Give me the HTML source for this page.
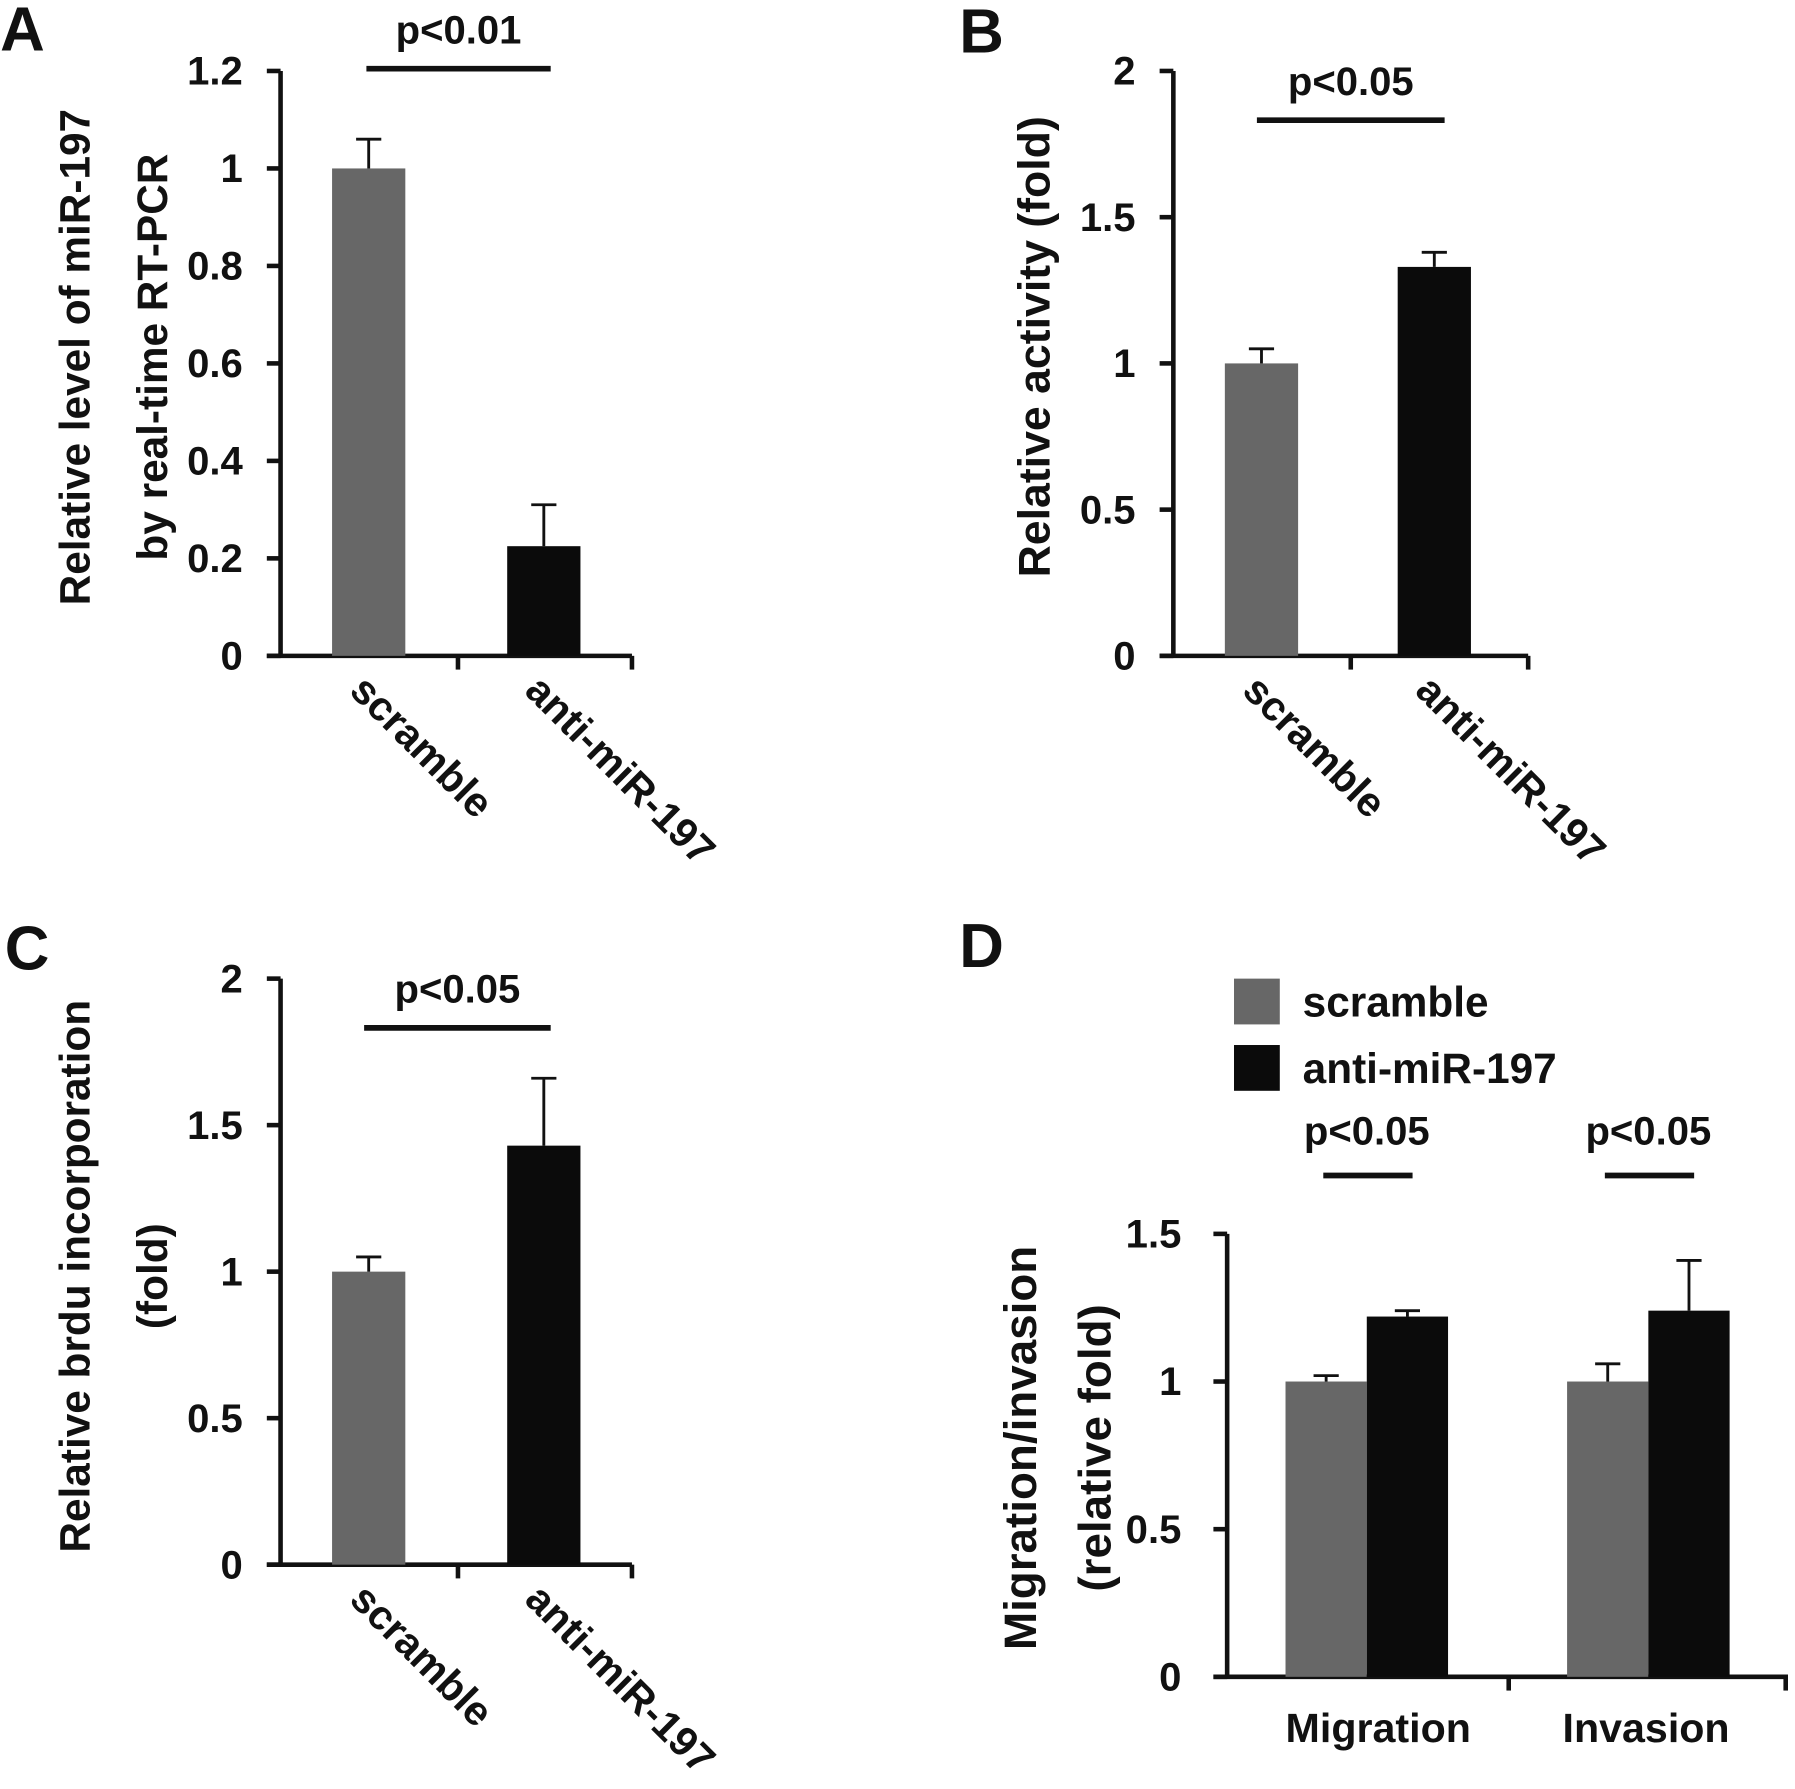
<!DOCTYPE html>
<html><head><meta charset="utf-8"><style>
html,body{margin:0;padding:0;background:#fff}
svg{display:block}
text{font-family:"Liberation Sans",Arial,sans-serif;font-weight:bold;fill:#111}
</style></head><body>
<svg id="fig" width="1795" height="1789" viewBox="0 0 1568 1563" xmlns="http://www.w3.org/2000/svg">
<text x="0" y="44" font-size="54">A</text>
<text x="838" y="46" font-size="54">B</text>
<text x="4" y="847" font-size="54">C</text>
<text x="838" y="845" font-size="54">D</text>
</svg>
<script>
const catsABC = ["scramble", "anti-miR-197"];
const valsA = [1.0, 0.225];
const errA = [1.06, 0.31];
const ticksA = ["0","0.2","0.4","0.6","0.8","1","1.2"];
const valsB = [1.0, 1.33];
const errB = [1.05, 1.38];
const ticksB = ["0","0.5","1","1.5","2"];
const valsC = [1.0, 1.43];
const errC = [1.05, 1.66];
const ticksC = ["0","0.5","1","1.5","2"];
const groupsD = ["Migration", "Invasion"];
const scrambleD = [1.0, 1.0];
const scrambleErrD = [1.02, 1.06];
const antiD = [1.22, 1.24];
const antiErrD = [1.24, 1.41];
const ticksD = ["0","0.5","1","1.5"];
const seriesD = ["scramble", "anti-miR-197"];

const svg = document.getElementById('fig');
const NS = "http://www.w3.org/2000/svg";
const GRAY = "#676767", BLACK = "#0b0b0b";
const TF = 35, LF = 36;
function el(tag, attrs, parent){ const e=document.createElementNS(NS,tag); for(const k in attrs) e.setAttribute(k,attrs[k]); (parent||svg).appendChild(e); return e; }
function line(x1,y1,x2,y2,w){ return el('line',{x1,y1,x2,y2,stroke:'#111','stroke-width':w||4}); }

function simplePanel(o){
  const g = el('g',{});
  
  
  const max = parseFloat(o.ticks[o.ticks.length-1]);
  const y = v => o.y0 - (v/max)*(o.y0-o.yTop);
  const ax = line(o.ax, o.yTop, o.ax, o.y0+1, 4); g.appendChild(ax);
  
  
  const xa = line(o.ax-12, o.y0, o.xEnd, o.y0, 4); g.appendChild(xa);
  
  
  o.ticks.forEach(t=>{
    const yy = y(parseFloat(t));
    g.appendChild(line(o.ax-12, yy, o.ax, yy, 4));
    const tx = el('text',{x:o.ax-33,y:yy+12,'font-size':TF,'text-anchor':'end'},g);
    tx.textContent = t;
    
    
  });
  o.xTicks.forEach(xx=> g.appendChild(line(xx, o.y0, xx, o.y0+12, 4)));
  o.vals.forEach((v,i)=>{
    const cx = o.centers[i], w=64;
    const r = el('rect',{x:cx-w/2,y:y(v),width:w,height:o.y0-y(v),fill:i?BLACK:GRAY},g);
    
    
    const e = line(cx, y(v), cx, y(o.errs[i]), 2.5); g.appendChild(e);
    g.appendChild(line(cx-11, y(o.errs[i]), cx+11, y(o.errs[i]), 2.5));
    const lb = el('text',{x:0,y:0,'font-size':LF,transform:`translate(${o.centers[i]-18},${o.y0+32}) rotate(45)`},g);
    lb.textContent = o.cats[i];
    
    
  });
  const s = line(o.sig[0], o.sig[2], o.sig[1], o.sig[2], 5); g.appendChild(s);
  
  
  const st = el('text',{x:(o.sig[0]+o.sig[1])/2,y:o.sig[2]-22,'font-size':TF,'text-anchor':'middle'},g);
  st.textContent = o.sigText;
  
  
  o.titles.forEach((t,i)=>{
    const tt = el('text',{x:0,y:0,'font-size':o.titleF,'text-anchor':'middle',transform:`translate(${o.titleX[i]},${o.titleY}) rotate(-90)`},g);
    tt.textContent = t;
    
    
  });
}

simplePanel({name:'panel-a',cats:catsABC,vals:valsA,errs:errA,ticks:ticksA,ax:245,yTop:62,y0:573,xEnd:552,xTicks:[400,552],centers:[322,475],sig:[320,481,60],sigText:'p<0.01',titles:['Relative level of miR-197','by real-time RT-PCR'],titleX:[78,146],titleY:312,titleF:37});
simplePanel({name:'panel-b',cats:catsABC,vals:valsB,errs:errB,ticks:ticksB,ax:1025,yTop:62,y0:573,xEnd:1335,xTicks:[1180,1335],centers:[1102,1253],sig:[1098,1262,105],sigText:'p<0.05',titles:['Relative activity (fold)'],titleX:[917],titleY:303,titleF:39});
simplePanel({name:'panel-c',cats:catsABC,vals:valsC,errs:errC,ticks:ticksC,ax:245,yTop:855,y0:1367,xEnd:552,xTicks:[400,552],centers:[322,475],sig:[318,481,898],sigText:'p<0.05',titles:['Relative brdu incorporation','(fold)'],titleX:[78,146],titleY:1115,titleF:37});

// Panel D
(function(){
  const g = el('g',{});
  
  
  const ax=1072, yTop=1078, y0=1465, max=1.5;
  const y = v => y0 - (v/max)*(y0-yTop);
  const a1=line(ax,yTop,ax,y0+1,4); g.appendChild(a1);
  
  
  const a2=line(ax-12,y0,1562,y0,4); g.appendChild(a2);
  
  
  ticksD.forEach(t=>{
    const yy=y(parseFloat(t));
    g.appendChild(line(ax-12,yy,ax,yy,4));
    const tx=el('text',{x:ax-40,y:yy+12,'font-size':TF,'text-anchor':'end'},g);
    tx.textContent=t;
    
    
  });
  [1318,1560].forEach(xx=>g.appendChild(line(xx,y0,xx,y0+12,4)));
  const centers=[1194,1440], w=71;
  const labelShift=[10,-2];
  groupsD.forEach((gname,i)=>{
    const c=centers[i];
    [[scrambleD,scrambleErrD,GRAY,-1],[antiD,antiErrD,BLACK,0]].forEach(([vals,errs,col,off],j)=>{
      const x0=c+off*w;
      const r=el('rect',{x:x0,y:y(vals[i]),width:w,height:y0-y(vals[i]),fill:col},g);
      
      
      const cx=x0+w/2;
      g.appendChild(line(cx,y(vals[i]),cx,y(errs[i]),2.5));
      g.appendChild(line(cx-11,y(errs[i]),cx+11,y(errs[i]),2.5));
    });
    const lb=el('text',{x:c+labelShift[i],y:1522,'font-size':LF,'text-anchor':'middle'},g);
    lb.textContent=gname;
    
    
    const s=line(c-38,1027,c+40,1027,5); g.appendChild(s);
    
    
    const st=el('text',{x:c,y:1000,'font-size':TF,'text-anchor':'middle'},g);
    st.textContent='p<0.05';
    
    
  });
  seriesD.forEach((s,j)=>{
    const r=el('rect',{x:1078,y:855+j*58,width:40,height:40,fill:j?BLACK:GRAY},g);
    
    
    const t=el('text',{x:1138,y:888+j*58,'font-size':37},g);
    t.textContent=s;
    
    
  });
  ['Migration/invasion','(relative fold)'].forEach((t,i)=>{
    const tt=el('text',{x:0,y:0,'font-size':40,'text-anchor':'middle',transform:`translate(${[905,970][i]},1265) rotate(-90)`},g);
    tt.textContent=t;
    
    
  });
})();
</script>
</body></html>
